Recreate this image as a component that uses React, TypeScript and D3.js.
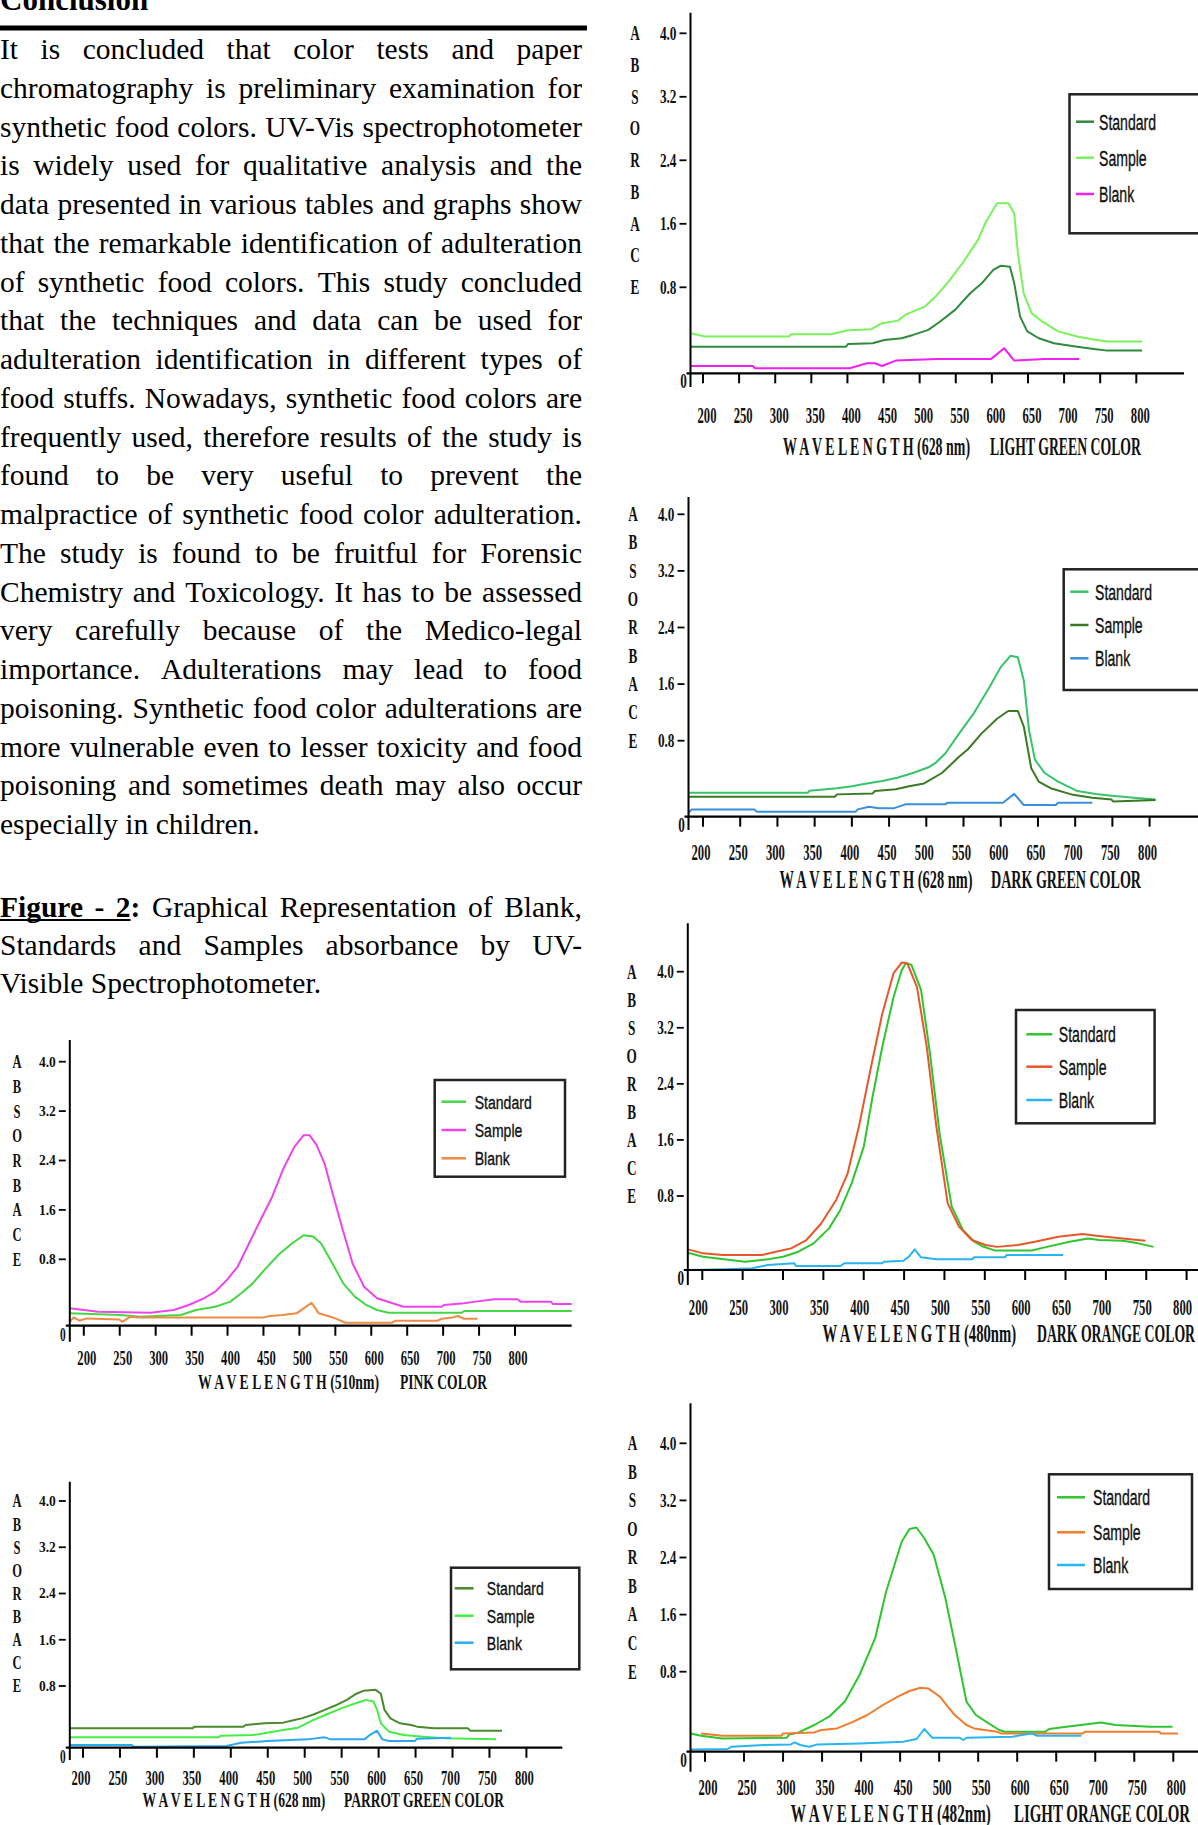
import React, { useEffect, useRef } from "react";
import * as d3 from "d3";

type Pt = [number, number];

// ---------------- text ----------------
const HEADING = "Conclusion";
const CONCLUSION_LINES: string[] = [
  "It is concluded that color tests and paper",
  "chromatography is preliminary examination for",
  "synthetic food colors. UV-Vis spectrophotometer",
  "is widely used for qualitative analysis and the",
  "data presented in various tables and graphs show",
  "that the remarkable identification of adulteration",
  "of synthetic food colors. This study concluded",
  "that the techniques and data can be used for",
  "adulteration identification in different types of",
  "food stuffs. Nowadays, synthetic food colors are",
  "frequently used, therefore results of the study is",
  "found to be very useful to prevent the",
  "malpractice of synthetic food color adulteration.",
  "The study is found to be fruitful for Forensic",
  "Chemistry and Toxicology. It has to be assessed",
  "very carefully because of the Medico-legal",
  "importance. Adulterations may lead to food",
  "poisoning. Synthetic food color adulterations are",
  "more vulnerable even to lesser toxicity and food",
  "poisoning and sometimes death may also occur",
  "especially in children.",
];
const FIGURE_LINES: string[] = [
  "Figure - 2: Graphical Representation of Blank,",
  "Standards and Samples absorbance by UV-",
  "Visible Spectrophotometer.",
];

// ---------------- axes ----------------
const WAVE_TICKS = [200, 250, 300, 350, 400, 450, 500, 550, 600, 650, 700, 750, 800];
const ABS_TICKS = [0.8, 1.6, 2.4, 3.2, 4.0];
const ABS_LETTERS = ["A", "B", "S", "O", "R", "B", "A", "C", "E"];
const SERIES_NAMES = ["Standard", "Sample", "Blank"];
const WAVE_TITLES = [
  "W A V E L E N G T H (628 nm)",
  "W A V E L E N G T H (628 nm)",
  "W A V E L E N G T H (480nm)",
  "W A V E L E N G T H (482nm)",
  "W A V E L E N G T H (510nm)",
  "W A V E L E N G T H (628 nm)",
];
const COLOR_TITLES = [
  "LIGHT GREEN COLOR",
  "DARK GREEN COLOR",
  "DARK ORANGE COLOR",
  "LIGHT ORANGE COLOR",
  "PINK COLOR",
  "PARROT GREEN COLOR",
];

// ---------------- data: [wavelength nm, absorbance] ----------------
const lightGreenStandard: Pt[] = [[183,0.248],[398,0.248],[401,0.273],[435,0.28],[451,0.31],[475,0.326],[491,0.357],[512,0.404],[528,0.48],[549,0.59],[570,0.745],[586,0.85],[602,1.02],[612,1.07],[625,1.06],[631,0.85],[639,0.53],[649,0.39],[665,0.326],[686,0.28],[718,0.248],[744,0.224],[760,0.211],[808,0.211]];
const lightGreenSample: Pt[] = [[183,0.373],[203,0.342],[319,0.342],[322,0.363],[377,0.363],[401,0.40],[433,0.41],[448,0.466],[470,0.49],[480,0.543],[507,0.62],[522,0.714],[538,0.85],[559,1.10],[581,1.40],[591,1.61],[607,1.86],[623,1.86],[631,1.73],[636,1.23],[644,0.745],[655,0.56],[670,0.48],[692,0.39],[718,0.342],[739,0.317],[760,0.295],[808,0.295]];
const lightGreenBlank: Pt[] = [[183,0.068],[269,0.068],[272,0.047],[403,0.047],[427,0.093],[438,0.093],[448,0.068],[467,0.118],[525,0.134],[599,0.134],[617,0.233],[631,0.118],[673,0.134],[721,0.134]];

const darkGreenStandard: Pt[] = [[180.5,0.253],[341,0.253],[343,0.274],[380,0.30],[400,0.32],[420,0.35],[441,0.375],[461,0.41],[482,0.46],[503,0.52],[513,0.57],[526,0.67],[544,0.90],[564,1.19],[585,1.56],[600,1.84],[613,2.0],[623,1.98],[631,1.65],[638,0.95],[646,0.60],[659,0.46],[677,0.37],[703,0.27],[728,0.24],[749,0.22],[779,0.20],[808,0.18]];
const darkGreenSample: Pt[] = [[180.5,0.21],[377,0.21],[380,0.235],[428,0.245],[431,0.27],[459,0.29],[477,0.32],[497,0.35],[521,0.46],[544,0.63],[556,0.71],[574,0.90],[595,1.11],[610,1.22],[623,1.22],[631,1.0],[641,0.51],[651,0.37],[667,0.30],[697,0.23],[723,0.20],[749,0.18],[751,0.16],[808,0.175]];
const darkGreenBlank: Pt[] = [[180.5,0.042],[185,0.077],[269,0.077],[272,0.053],[405,0.053],[408,0.077],[423,0.105],[436,0.088],[456,0.088],[472,0.13],[526,0.13],[528,0.147],[603,0.147],[618,0.24],[631,0.123],[674,0.123],[677,0.147],[723,0.147]];

const darkOrangeStandard: Pt[] = [[182,0.187],[201,0.144],[227,0.115],[253,0.09],[281,0.115],[300,0.144],[319,0.198],[338,0.288],[357,0.45],[371,0.649],[385,0.98],[400,1.50],[411,2.22],[423,2.93],[437,3.64],[447,4.02],[452,4.12],[459,4.10],[471,3.74],[482,2.84],[494,1.69],[509,0.685],[523,0.43],[537,0.306],[546,0.26],[563,0.21],[608,0.21],[627,0.25],[655,0.306],[678,0.34],[692,0.324],[721,0.317],[740,0.288],[759,0.25]];
const darkOrangeSample: Pt[] = [[182,0.223],[201,0.18],[225,0.162],[274,0.162],[291,0.198],[310,0.234],[329,0.324],[347,0.50],[366,0.76],[380,1.12],[394,1.79],[409,2.64],[423,3.40],[437,3.98],[447,4.13],[454,4.12],[466,3.78],[478,2.93],[490,1.79],[504,0.72],[518,0.47],[534,0.324],[551,0.27],[565,0.25],[591,0.27],[612,0.306],[641,0.36],[671,0.39],[688,0.37],[721,0.34],[749,0.317]];
const darkOrangeBlank: Pt[] = [[182,0.0],[227,0.007],[262,0.018],[281,0.054],[314,0.072],[316,0.043],[371,0.043],[376,0.072],[423,0.072],[425,0.09],[449,0.10],[456,0.144],[463,0.223],[471,0.137],[490,0.115],[534,0.115],[537,0.137],[575,0.137],[577,0.162],[647,0.162]];

const lightOrangeStandard: Pt[] = [[181,0.183],[195,0.16],[222,0.133],[305,0.14],[308,0.173],[320,0.193],[340,0.267],[359,0.35],[379,0.50],[398,0.767],[418,1.27],[432,1.92],[452,2.62],[462,2.80],[471,2.82],[481,2.67],[493,2.44],[508,1.83],[522,1.09],[535,0.50],[547,0.367],[560,0.30],[577,0.217],[584,0.20],[636,0.20],[641,0.227],[663,0.25],[687,0.273],[707,0.293],[726,0.267],[770,0.25],[799,0.25]];
const lightOrangeSample: Pt[] = [[195,0.183],[222,0.16],[298,0.16],[300,0.183],[340,0.193],[349,0.217],[369,0.233],[388,0.293],[408,0.367],[428,0.467],[447,0.55],[462,0.607],[476,0.64],[486,0.633],[501,0.55],[511,0.45],[520,0.367],[535,0.267],[545,0.233],[574,0.20],[579,0.183],[684,0.183],[687,0.20],[782,0.20],[784,0.183],[806,0.183]];
const lightOrangeBlank: Pt[] = [[181,0.023],[229,0.027],[234,0.05],[276,0.067],[310,0.073],[315,0.093],[322,0.067],[334,0.05],[344,0.073],[398,0.083],[454,0.10],[471,0.127],[481,0.227],[491,0.14],[526,0.14],[531,0.117],[535,0.14],[594,0.15],[618,0.183],[626,0.16],[682,0.16]];

const pinkStandard: Pt[] = [[180.6,0.149],[251,0.129],[278,0.109],[335,0.129],[356,0.189],[383,0.229],[404,0.29],[419,0.39],[435,0.51],[451,0.67],[472,0.886],[490,1.06],[506,1.19],[519,1.17],[530,1.06],[546,0.75],[561,0.51],[577,0.35],[593,0.25],[608,0.189],[624,0.157],[726,0.157],[729,0.177],[879,0.177]];
const pinkSample: Pt[] = [[180.6,0.209],[220,0.169],[293,0.157],[325,0.189],[346,0.249],[367,0.33],[383,0.41],[399,0.55],[414,0.71],[430,1.06],[446,1.44],[462,1.81],[477,2.25],[493,2.62],[506,2.81],[514,2.81],[524,2.65],[535,2.35],[545,1.92],[559,1.33],[574,0.75],[590,0.47],[608,0.33],[645,0.229],[698,0.229],[701,0.249],[729,0.27],[745,0.29],[771,0.32],[803,0.32],[808,0.29],[850,0.29],[853,0.26],[879,0.26]];
const pinkBlank: Pt[] = [[180.6,0.048],[186,0.10],[194,0.06],[204,0.088],[249,0.076],[254,0.048],[265,0.109],[275,0.10],[451,0.10],[459,0.117],[477,0.129],[496,0.149],[506,0.209],[517,0.277],[527,0.149],[540,0.117],[550,0.088],[564,0.036],[629,0.036],[634,0.06],[692,0.06],[698,0.084],[713,0.10],[721,0.117],[729,0.084],[748,0.084]];

const parrotStandard: Pt[] = [[182,0.251],[348,0.251],[351,0.273],[417,0.273],[420,0.294],[445,0.316],[471,0.325],[486,0.36],[496,0.38],[512,0.43],[527,0.49],[542,0.55],[557,0.62],[570,0.70],[580,0.74],[596,0.75],[603,0.70],[608,0.49],[616,0.38],[629,0.316],[644,0.294],[652,0.273],[675,0.251],[721,0.251],[724,0.221],[767,0.221]];
const parrotSample: Pt[] = [[182,0.134],[384,0.134],[386,0.156],[430,0.164],[445,0.186],[471,0.23],[491,0.26],[512,0.36],[532,0.44],[552,0.52],[573,0.59],[583,0.62],[593,0.60],[598,0.49],[603,0.316],[614,0.208],[634,0.164],[660,0.143],[690,0.121],[759,0.108]];
const parrotBlank: Pt[] = [[182,0.035],[266,0.035],[269,0.013],[394,0.022],[414,0.065],[450,0.086],[504,0.108],[527,0.134],[535,0.108],[581,0.108],[588,0.164],[598,0.22],[605,0.108],[614,0.086],[649,0.086],[652,0.117],[698,0.13]];

// ---------------- styles / layout ----------------
const SERIF = "'Liberation Serif','Times New Roman',serif";
const SANS = "'Liberation Sans',Arial,sans-serif";

interface Fonts { yt: number; ytSx: number; xt: number; xtSx: number; let: number; letSx: number; zero: number; title: number; leg: number; legSx: number; }
interface Layout {
  axisX: number; yTop: number; yBottom: number; y0: number; y08: number; y40: number;
  x200: number; x800: number; xAxisEnd: number; tickBase: number; tickOff: number; titleBase: number;
  t1x: number; t1w: number; t2x: number; t2w: number; letterX: number;
  leg: { x: number; y: number; w: number; h: number; rows: number[]; lx1: number; lx2: number; tx: number };
  f: Fonts;
}
const FR: Fonts = { yt: 19, ytSx: 0.7, xt: 23, xtSx: 0.55, let: 20, letSx: 0.66, zero: 22, title: 25, leg: 22, legSx: 0.64 };
const FL: Fonts = { yt: 15, ytSx: 0.9, xt: 20, xtSx: 0.63, let: 19, letSx: 0.66, zero: 19, title: 20, leg: 19, legSx: 0.74 };

const LAYOUTS: Layout[] = [
  { axisX: 690.5, yTop: 12.7, yBottom: 387, y0: 373.3, y08: 287.3, y40: 33.3, x200: 703, x800: 1136.3, xAxisEnd: 1184, tickBase: 423.3, tickOff: 4, titleBase: 455, t1x: 783, t1w: 187, t2x: 990, t2w: 151, letterX: 635,
    leg: { x: 1069.5, y: 94.3, w: 140, h: 139, rows: [121.7, 157.7, 194], lx1: 1076, lx2: 1094, tx: 1099 }, f: FR },
  { axisX: 688.5, yTop: 497, yBottom: 830, y0: 816.7, y08: 740.7, y40: 514.3, x200: 703, x800: 1149.6, xAxisEnd: 1198, tickBase: 860, tickOff: -2, titleBase: 888.3, t1x: 779.4, t1w: 193, t2x: 991, t2w: 150, letterX: 633,
    leg: { x: 1063.7, y: 569.3, w: 140, h: 120.7, rows: [591.7, 625, 658.3], lx1: 1070.2, lx2: 1088.5, tx: 1095 }, f: FR },
  { axisX: 687.8, yTop: 923.3, yBottom: 1285, y0: 1270, y08: 1196, y40: 971.7, x200: 702.3, x800: 1186.6, xAxisEnd: 1198, tickBase: 1315, tickOff: -4, titleBase: 1341.7, t1x: 822.5, t1w: 193.5, t2x: 1037, t2w: 158, letterX: 631.7,
    leg: { x: 1016, y: 1010, w: 138.6, h: 113.3, rows: [1034.3, 1066.7, 1100], lx1: 1026.3, lx2: 1052.3, tx: 1058.8 }, f: FR },
  { axisX: 690.5, yTop: 1403.3, yBottom: 1771.7, y0: 1751.7, y08: 1671.7, y40: 1443.3, x200: 705, x800: 1173.3, xAxisEnd: 1198, tickBase: 1795, tickOff: 3, titleBase: 1821.5, t1x: 790.8, t1w: 200, t2x: 1014, t2w: 176, letterX: 632.4,
    leg: { x: 1049, y: 1474.3, w: 143, h: 114.7, rows: [1497.3, 1532.3, 1565], lx1: 1057, lx2: 1085, tx: 1093 }, f: FR },
  { axisX: 69.8, yTop: 1040, yBottom: 1341.7, y0: 1325.7, y08: 1259.3, y40: 1061.7, x200: 83.8, x800: 515, xAxisEnd: 571.7, tickBase: 1365, tickOff: 3, titleBase: 1389.3, t1x: 198, t1w: 181, t2x: 400, t2w: 87, letterX: 17,
    leg: { x: 434.7, y: 1080, w: 130.3, h: 96.7, rows: [1101.7, 1130, 1158.3], lx1: 441.5, lx2: 466, tx: 474.7 }, f: FL },
  { axisX: 69.8, yTop: 1481.7, yBottom: 1760, y0: 1747.7, y08: 1686, y40: 1501, x200: 83, x800: 526.4, xAxisEnd: 562.3, tickBase: 1785, tickOff: -2, titleBase: 1807.3, t1x: 142.6, t1w: 182.7, t2x: 344, t2w: 160, letterX: 17,
    leg: { x: 451, y: 1567.7, w: 128.3, h: 101.6, rows: [1588.3, 1615.7, 1642.7], lx1: 454.7, lx2: 473.6, tx: 486.8 }, f: FL },
];

const CHART_SERIES: { data: Pt[]; color: string }[][] = [
  [{ data: lightGreenStandard, color: "#2f8a3c" }, { data: lightGreenSample, color: "#7af25a" }, { data: lightGreenBlank, color: "#f020f0" }],
  [{ data: darkGreenStandard, color: "#35c46a" }, { data: darkGreenSample, color: "#3b7a23" }, { data: darkGreenBlank, color: "#3a8fd9" }],
  [{ data: darkOrangeStandard, color: "#2ec52e" }, { data: darkOrangeSample, color: "#e8572a" }, { data: darkOrangeBlank, color: "#29b5f0" }],
  [{ data: lightOrangeStandard, color: "#2ec52e" }, { data: lightOrangeSample, color: "#ef7d2b" }, { data: lightOrangeBlank, color: "#29b5f0" }],
  [{ data: pinkStandard, color: "#44d844" }, { data: pinkSample, color: "#ee44ee" }, { data: pinkBlank, color: "#ee8a44" }],
  [{ data: parrotStandard, color: "#4a8a2e" }, { data: parrotSample, color: "#44ee44" }, { data: parrotBlank, color: "#2aaaf0" }],
];

const BODY_FS = 29.5;
const LINE0 = 59;
const LH = 38.75;
const FIG0 = 917;
const FIG_LH = 37.8;
const TEXT_W = 582;

function Chart({ L, series, idx }: { L: Layout; series: { data: Pt[]; color: string }[]; idx: number }) {
  const x = d3.scaleLinear().domain([200, 800]).range([L.x200, L.x800]);
  const y = d3.scaleLinear().domain([0, 0.8, 4.0]).range([L.y0, L.y08, L.y40]);
  const line = d3.line<Pt>().x((d) => x(d[0])).y((d) => y(d[1]));
  const fmt = d3.format(".1f");
  const f = L.f;
  return (
    <g>
      {series.map((s, i) => (
        <path key={i} d={line(s.data) || ""} fill="none" stroke={s.color} strokeWidth={2} strokeLinejoin="round" />
      ))}
      <line x1={L.axisX} x2={L.axisX} y1={L.yTop} y2={L.yBottom} stroke="#000" strokeWidth={2} />
      <line x1={L.axisX - 4} x2={L.xAxisEnd} y1={y(0)} y2={y(0)} stroke="#000" strokeWidth={2.2} />
      {WAVE_TICKS.map((t) => (
        <line key={"t" + t} x1={x(t)} x2={x(t)} y1={y(0)} y2={y(0) + 10} stroke="#000" strokeWidth={2} />
      ))}
      {WAVE_TICKS.map((t) => (
        <text key={"l" + t} transform={`translate(${x(t) + L.tickOff},${L.tickBase}) scale(${f.xtSx},1)`} textAnchor="middle"
          fontFamily={SERIF} fontWeight="bold" fontSize={f.xt} fill="#111">{t}</text>
      ))}
      {ABS_TICKS.map((t) => (
        <g key={"y" + t}>
          <line x1={L.axisX - 11} x2={L.axisX - 4} y1={y(t)} y2={y(t)} stroke="#000" strokeWidth={1.8} />
          <text transform={`translate(${L.axisX - 14},${y(t) + 0.33 * f.yt}) scale(${f.ytSx},1)`} textAnchor="end"
            fontFamily={SERIF} fontWeight="bold" fontSize={f.yt} fill="#111">{fmt(t)}</text>
        </g>
      ))}
      {ABS_LETTERS.map((c, i) => (
        <text key={"a" + i} transform={`translate(${L.letterX},${y(4.0 - 0.4 * i) + 0.34 * f.let}) scale(${f.letSx},1)`}
          textAnchor="middle" fontFamily={SERIF} fontWeight="bold" fontSize={f.let} fill="#111">{c}</text>
      ))}
      <text transform={`translate(${L.axisX - 7},${y(0) + 15}) scale(0.6,1)`} textAnchor="middle" fontFamily={SERIF}
        fontWeight="bold" fontSize={f.zero} fill="#111">0</text>
      <text className="fit" data-x={L.t1x} data-y={L.titleBase} data-w={L.t1w}
        transform={`translate(${L.t1x},${L.titleBase}) scale(0.55,1)`} fontFamily={SERIF}
        fontWeight="bold" fontSize={f.title} fill="#111">{WAVE_TITLES[idx]}</text>
      <text className="fit" data-x={L.t2x} data-y={L.titleBase} data-w={L.t2w}
        transform={`translate(${L.t2x},${L.titleBase}) scale(0.55,1)`} fontFamily={SERIF}
        fontWeight="bold" fontSize={f.title} fill="#111">{COLOR_TITLES[idx]}</text>
      <rect x={L.leg.x} y={L.leg.y} width={L.leg.w} height={L.leg.h} fill="#fff" stroke="#222" strokeWidth={2.5} />
      {SERIES_NAMES.map((n, i) => (
        <g key={n}>
          <line x1={L.leg.lx1} x2={L.leg.lx2} y1={L.leg.rows[i]} y2={L.leg.rows[i]} stroke={series[i].color} strokeWidth={2.5} />
          <text transform={`translate(${L.leg.tx},${L.leg.rows[i] + 0.36 * f.leg}) scale(${f.legSx},1)`}
            fontFamily={SANS} fontSize={f.leg} fill="#111" stroke="#111" strokeWidth={0.35}>{n}</text>
        </g>
      ))}
    </g>
  );
}

export default function App() {
  const ref = useRef<SVGSVGElement>(null);
  useEffect(() => {
    const svg = d3.select(ref.current);
    // justify paragraph lines
    svg.selectAll<SVGGElement, unknown>("g.jline").each(function () {
      const g = d3.select(this);
      const words = g.selectAll<SVGTextElement, unknown>("text.word").nodes();
      const widths = words.map((w) => w.getComputedTextLength());
      const justify = g.attr("data-justify") === "1";
      const total = d3.sum(widths);
      const gap = justify && words.length > 1 ? (TEXT_W - total) / (words.length - 1) : 0.25 * BODY_FS;
      let xx = 0;
      words.forEach((w, i) => {
        d3.select(w).attr("x", xx);
        xx += widths[i] + gap;
      });
    });
    // underline of "Figure - 2"
    const two = svg.select<SVGTextElement>("text.figtwo").node();
    if (two) {
      const x0 = +two.getAttribute("x")!;
      const w2 = two.getSubStringLength(0, 1);
      svg.select("line.figunder").attr("x2", x0 + w2);
    }
    // fit condensed chart titles to their measured widths
    svg.selectAll<SVGTextElement, unknown>("text.fit").each(function () {
      const nat = this.getComputedTextLength();
      const tx = +this.getAttribute("data-x")!;
      const ty = +this.getAttribute("data-y")!;
      const tw = +this.getAttribute("data-w")!;
      const sx = nat > 0 ? tw / nat : 0.55;
      d3.select(this).attr("transform", `translate(${tx},${ty}) scale(${sx},1)`);
    });
  }, []);

  return (
    <svg ref={ref} width={1198} height={1825} style={{ position: "absolute", left: 0, top: 0, display: "block", background: "#fff" }}>
      <rect x={0} y={0} width={1198} height={1825} fill="#fff" />
      <text x={0} y={10} fontFamily={SERIF} fontWeight="bold" fontSize={31} fill="#000">{HEADING}</text>
      <rect x={0} y={25.5} width={587} height={5} fill="#000" />
      {CONCLUSION_LINES.map((ln, i) => (
        <g key={"c" + i} className="jline" data-justify={i < CONCLUSION_LINES.length - 1 ? "1" : "0"}>
          {ln.split(" ").map((w, j) => (
            <text key={j} className="word" x={0} y={LINE0 + i * LH} fontFamily={SERIF} fontSize={BODY_FS} fill="#000">{w}</text>
          ))}
        </g>
      ))}
      {FIGURE_LINES.map((ln, i) => (
        <g key={"f" + i} className="jline" data-justify={i < FIGURE_LINES.length - 1 ? "1" : "0"}>
          {ln.split(" ").map((w, j) => {
            const bold = i === 0 && j < 3;
            const cls = i === 0 && j === 2 ? "word figtwo" : "word";
            return (
              <text key={j} className={cls} x={0} y={FIG0 + i * FIG_LH} fontFamily={SERIF} fontSize={BODY_FS}
                fontWeight={bold ? "bold" : "normal"} fill="#000">{w}</text>
            );
          })}
        </g>
      ))}
      <line className="figunder" x1={0} x2={130} y1={FIG0 + 3} y2={FIG0 + 3} stroke="#000" strokeWidth={2} />
      {LAYOUTS.map((L, i) => (
        <Chart key={i} L={L} series={CHART_SERIES[i]} idx={i} />
      ))}
    </svg>
  );
}
